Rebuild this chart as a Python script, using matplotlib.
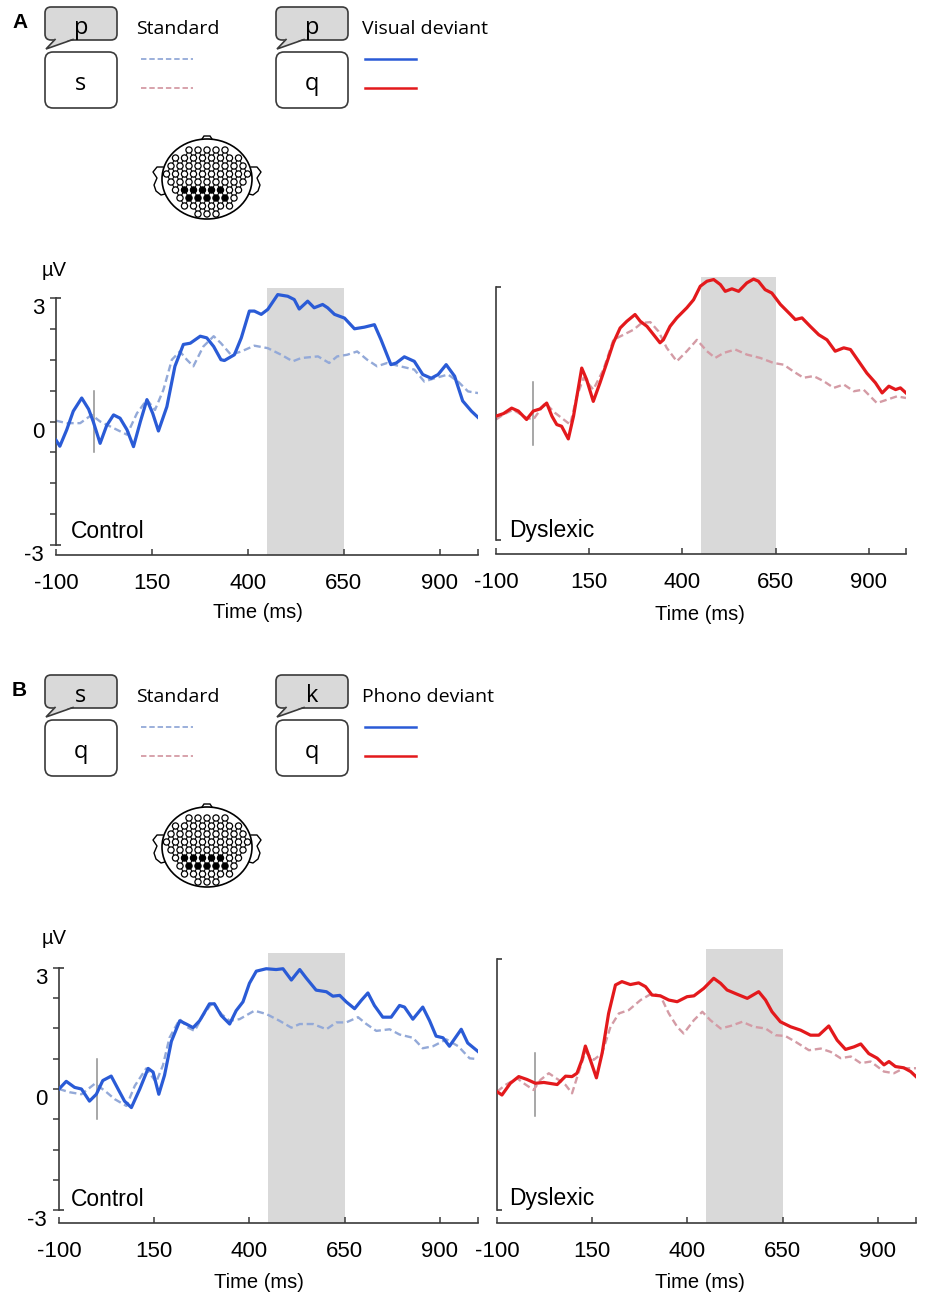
#!/usr/bin/env python3
"""ERP waves for visual (A) and phonological (B) deviants vs. standards,
control vs. dyslexic readers. Writes out.png."""
import matplotlib
matplotlib.use("Agg")
import matplotlib.pyplot as plt
import numpy as np
from matplotlib.patches import Circle, Ellipse, FancyBboxPatch, Polygon

W, H = 928, 1300

# ---- waveforms: time (ms), amplitude (uV) ----
a_ctl_dev_t = [-100, -90, -72, -55, -33, -15, -3, 15, 32, 50, 67, 85, 102, 120, 137, 152, 167, 189,
               210, 232, 250, 276, 293, 311, 330, 339, 365, 383, 404, 417, 435, 452, 478, 504, 521,
               534, 556, 573, 595, 608, 626, 652, 678, 704, 730, 747, 773, 787, 808, 834, 856, 878,
               896, 917, 939, 960, 983, 1000]
a_ctl_dev_v = [-0.45, -0.6, -0.2, 0.25, 0.57, 0.3, 0.0, -0.53, -0.1, 0.16, 0.08, -0.2, -0.61, 0.0,
               0.53, 0.2, -0.23, 0.36, 1.34, 1.87, 1.9, 2.07, 2.03, 1.82, 1.5, 1.48, 1.62, 2.03, 2.68,
               2.68, 2.6, 2.72, 3.08, 3.04, 2.96, 2.73, 2.92, 2.76, 2.84, 2.76, 2.6, 2.51, 2.25, 2.29,
               2.35, 1.99, 1.38, 1.42, 1.57, 1.46, 1.14, 1.05, 1.14, 1.38, 1.1, 0.5, 0.25, 0.1]
a_ctl_std_t = [-100, -72, -37, -7, 15, 50, 85, 111, 137, 158, 180, 202, 223, 241, 258, 284, 311, 330,
               356, 383, 417, 452, 487, 517, 539, 583, 612, 633, 659, 685, 711, 737, 763, 797, 834,
               860, 887, 922, 948, 974, 1000]
a_ctl_std_v = [0.02, -0.04, -0.04, 0.16, 0.0, -0.16, -0.32, 0.2, 0.53, 0.28, 0.77, 1.5, 1.7, 1.5,
               1.34, 1.82, 2.07, 1.9, 1.62, 1.7, 1.84, 1.78, 1.62, 1.46, 1.54, 1.58, 1.42, 1.58, 1.62,
               1.7, 1.5, 1.34, 1.42, 1.34, 1.26, 0.97, 1.05, 1.14, 0.97, 0.73, 0.69]

a_dys_dev_t = [-100, -80, -58, -40, -18, 0, 18, 36, 50, 63, 76, 94, 108, 130, 143, 161, 179, 197,
               215, 233, 251, 273, 287, 305, 323, 340, 349, 367, 385, 412, 430, 448, 466, 484, 502,
               515, 533, 551, 573, 591, 604, 622, 640, 663, 690, 703, 721, 743, 766, 788, 810, 833,
               851, 873, 895, 918, 936, 954, 972, 985, 1000]
a_dys_dev_v = [-0.06, 0.0, 0.13, 0.06, -0.14, 0.06, 0.11, 0.25, -0.06, -0.26, -0.3, -0.6, -0.06,
               1.08, 0.81, 0.29, 0.73, 1.2, 1.68, 2.03, 2.19, 2.35, 2.19, 2.07, 1.87, 1.68, 1.75,
               2.07, 2.27, 2.51, 2.7, 3.02, 3.14, 3.18, 3.06, 2.9, 2.96, 2.9, 3.1, 3.19, 3.14, 2.94,
               2.86, 2.59, 2.35, 2.23, 2.27, 2.07, 1.87, 1.75, 1.48, 1.56, 1.52, 1.24, 0.96, 0.73,
               0.49, 0.65, 0.57, 0.61, 0.49]
a_dys_std_t = [-100, -80, -54, -18, 0, 32, 58, 99, 117, 135, 161, 188, 215, 242, 269, 291, 314, 336,
               358, 385, 412, 439, 466, 488, 511, 542, 573, 609, 645, 672, 698, 725, 752, 779, 806,
               833, 860, 886, 922, 949, 976, 1000]
a_dys_std_v = [-0.14, -0.02, 0.09, -0.1, -0.14, 0.25, 0.02, -0.26, 0.41, 0.85, 0.57, 1.04, 1.75,
               1.87, 1.99, 2.15, 2.17, 1.95, 1.56, 1.24, 1.48, 1.75, 1.48, 1.32, 1.44, 1.52, 1.4,
               1.32, 1.2, 1.16, 1.0, 0.85, 0.89, 0.77, 0.61, 0.69, 0.53, 0.57, 0.25, 0.33, 0.41, 0.37]

b_ctl_dev_t = [-100, -81, -59, -41, -20, -2, 15, 37, 55, 72, 90, 112, 134, 147, 162, 177, 195, 217,
               234, 252, 269, 295, 308, 326, 348, 365, 383, 400, 418, 444, 470, 488, 510, 532, 549,
               575, 602, 619, 637, 654, 676, 694, 711, 728, 750, 772, 794, 807, 829, 855, 873, 890,
               908, 925, 956, 973, 1000]
b_ctl_dev_v = [0.0, 0.19, 0.04, 0.0, -0.3, -0.13, 0.21, 0.32, 0.0, -0.3, -0.46, 0.0, 0.51, 0.42,
               -0.13, 0.34, 1.18, 1.69, 1.61, 1.52, 1.69, 2.11, 2.11, 1.82, 1.61, 1.94, 2.16, 2.62,
               2.92, 2.98, 2.96, 2.98, 2.7, 2.96, 2.75, 2.45, 2.41, 2.3, 2.32, 2.16, 1.99, 2.2, 2.38,
               2.07, 1.78, 1.78, 2.07, 2.03, 1.73, 2.03, 1.69, 1.31, 1.27, 1.06, 1.48, 1.14, 0.93]
b_ctl_std_t = [-100, -72, -41, -6, 20, 46, 77, 99, 129, 155, 173, 190, 217, 239, 256, 278, 304, 326,
               348, 374, 413, 444, 479, 510, 532, 567, 602, 628, 654, 685, 707, 733, 768, 794, 829,
               855, 882, 917, 948, 978, 1000]
b_ctl_std_v = [0.0, -0.08, -0.13, 0.13, -0.04, -0.25, -0.42, 0.08, 0.51, 0.17, 0.59, 1.27, 1.73,
               1.52, 1.44, 1.82, 2.16, 1.86, 1.69, 1.73, 1.94, 1.86, 1.69, 1.52, 1.61, 1.61, 1.48,
               1.65, 1.65, 1.78, 1.61, 1.44, 1.48, 1.35, 1.27, 1.01, 1.06, 1.23, 1.06, 0.76, 0.74]

b_dys_dev_t = [-100, -87, -65, -43, -21, 1, 23, 58, 80, 97, 110, 123, 132, 145, 161, 176, 193, 211,
               228, 250, 272, 290, 307, 329, 351, 373, 399, 417, 443, 469, 487, 504, 530, 557, 587,
               605, 622, 644, 671, 697, 723, 745, 771, 793, 815, 837, 855, 876, 898, 916, 929, 946,
               968, 986, 1000]
b_dys_dev_v = [-0.17, -0.25, 0.03, 0.19, 0.12, 0.03, 0.05, 0.0, 0.2, 0.19, 0.27, 0.59, 0.92, 0.59,
               0.16, 0.75, 1.7, 2.38, 2.46, 2.39, 2.43, 2.34, 2.14, 2.12, 2.02, 1.98, 2.1, 2.12, 2.3,
               2.54, 2.42, 2.26, 2.16, 2.06, 2.22, 2.02, 1.74, 1.5, 1.38, 1.3, 1.18, 1.18, 1.4, 1.06,
               0.84, 0.9, 0.97, 0.74, 0.63, 0.47, 0.55, 0.43, 0.4, 0.31, 0.19]
b_dys_std_t = [-100, -78, -47, -30, -4, 14, 36, 62, 80, 97, 115, 132, 154, 176, 198, 220, 246, 277,
               307, 329, 351, 373, 390, 417, 439, 460, 487, 513, 544, 574, 605, 631, 657, 684, 719,
               750, 776, 802, 829, 855, 881, 916, 942, 968, 1000]
b_dys_std_v = [-0.17, -0.01, 0.15, 0.03, -0.13, 0.11, 0.27, 0.11, -0.01, -0.21, 0.31, 0.78, 0.59,
               0.75, 1.38, 1.7, 1.78, 2.02, 2.18, 2.12, 1.7, 1.38, 1.22, 1.54, 1.74, 1.54, 1.34, 1.4,
               1.5, 1.38, 1.34, 1.18, 1.16, 1.02, 0.82, 0.86, 0.78, 0.63, 0.67, 0.51, 0.55, 0.31,
               0.27, 0.39, 0.39]

XTICKS = [-100, 150, 400, 650, 900]
XMAX = 1000
WINDOW = (450, 650)       # shaded analysis window (ms)
STIM_BAR = 0.75           # half height of the stimulus-onset marker (uV)
YRANGE = 3

BLUE, RED = "#2a5bd6", "#e3191c"
BLUE_STD, RED_STD = "#93a9d8", "#d49ba5"
SHADE = "#d9d9d9"
AXC = "#3a3a3a"
BOXGRAY = "#d9d9d9"

plt.rcParams["font.family"] = ["Liberation Sans", "DejaVu Sans"]
LEGEND_FONT = ["Open Sans", "DejaVu Sans"]

fig = plt.figure(figsize=(W / 100, H / 100), dpi=100)


def add_px_axes(l, t, r, b):
    return fig.add_axes([l / W, 1 - b / H, (r - l) / W, (b - t) / H])


def draw_panel(rect, ylim, std_t, std_v, dev_t, dev_v, c_std, c_dev, ticks):
    l, t, r, b = rect
    ax = add_px_axes(*rect)
    ax.set_facecolor("none")
    ax.set_xlim(XTICKS[0], XMAX)
    ax.set_ylim(*ylim)
    ax.axvspan(*WINDOW, color=SHADE, lw=0, zorder=0)
    ax.plot([0, 0], [-STIM_BAR, STIM_BAR], color="#8f8f8f", lw=1.1, zorder=1)
    ax.plot(std_t, std_v, color=c_std, lw=1.7, dashes=(3, 1.6), zorder=2)
    ax.plot(dev_t, dev_v, color=c_dev, lw=2.3, zorder=3, solid_joinstyle="round")

    for s in ("top", "right"):
        ax.spines[s].set_visible(False)
    for s in ("left", "bottom"):
        ax.spines[s].set_color(AXC)
        ax.spines[s].set_linewidth(1.2)
    ax.spines["left"].set_bounds(-YRANGE, YRANGE)
    # little inward stubs that close the y bracket
    stub = 5 / ((r - l) / (XMAX - XTICKS[0]))
    for yv in (-YRANGE, YRANGE):
        ax.plot([XTICKS[0], XTICKS[0] + stub], [yv, yv], color=AXC, lw=1.2,
                clip_on=False, solid_capstyle="butt")

    ax.set_xticks(XTICKS + [XMAX])
    ax.set_xticklabels([str(v) for v in XTICKS] + [""])
    ax.tick_params(axis="x", direction="in", length=4, width=1.1, color=AXC,
                   labelsize=16, pad=13)
    if ticks:
        yt = np.arange(-YRANGE, YRANGE + 0.01, 0.75)
        ax.set_yticks(yt)
        ax.set_yticklabels([f"{v:g}" if v in (-YRANGE, 0, YRANGE) else "" for v in yt])
        ax.tick_params(axis="y", direction="out", length=4.5, width=1.1, color=AXC,
                       labelsize=16, pad=4)
        for lbl in ax.get_yticklabels():
            lbl.set_va("top")
    else:
        ax.set_yticks([])
    return ax


draw_panel((56, 288, 478, 555), (-3.24, 3.24), a_ctl_std_t, a_ctl_std_v,
           a_ctl_dev_t, a_ctl_dev_v, BLUE_STD, BLUE, True)
draw_panel((496, 277, 906, 554), (-3.33, 3.24), a_dys_std_t, a_dys_std_v,
           a_dys_dev_t, a_dys_dev_v, RED_STD, RED, False)
draw_panel((59, 953, 478, 1223), (-3.32, 3.37), b_ctl_std_t, b_ctl_std_v,
           b_ctl_dev_t, b_ctl_dev_v, BLUE_STD, BLUE, True)
draw_panel((497, 949, 916, 1223), (-3.31, 3.24), b_dys_std_t, b_dys_std_v,
           b_dys_dev_t, b_dys_dev_v, RED_STD, RED, False)

# ---- overlay in pixel coordinates for labels, legends and head maps ----
ov = fig.add_axes([0, 0, 1, 1])
ov.set_xlim(0, W)
ov.set_ylim(H, 0)
ov.axis("off")

for x, y in [(258, 613), (700, 615), (259, 1283), (700, 1283)]:
    ov.text(x, y, "Time (ms)", ha="center", va="center", fontsize=14.5)
for x, y, s in [(71, 532, "Control"), (509, 531, "Dyslexic"),
                (71, 1200, "Control"), (509, 1199, "Dyslexic")]:
    ov.text(x, y, s, ha="left", va="center", fontsize=16.5)
for y in (271, 938):
    ov.text(54, y, "µV", ha="center", va="center", fontsize=14.5)


def bubble(x0, y0, top, bottom):
    x1, y1 = x0 + 72, y0 + 33
    ov.add_patch(FancyBboxPatch((x0, y0), x1 - x0, y1 - y0,
                                boxstyle="round,pad=0,rounding_size=6",
                                fc=BOXGRAY, ec=AXC, lw=1.2, zorder=2))
    ov.add_patch(Polygon([(x0 + 10, y1 - 1.5), (x0 + 1, y1 + 9), (x0 + 28, y1 - 1.5)],
                         closed=True, fc=BOXGRAY, ec="none", zorder=3))
    ov.plot([x0 + 10, x0 + 1, x0 + 28], [y1 - 0.5, y1 + 9, y1 - 0.5], color=AXC, lw=1.2,
            zorder=4, solid_joinstyle="miter")
    ov.add_patch(FancyBboxPatch((x0, y0 + 45), x1 - x0, 56,
                                boxstyle="round,pad=0,rounding_size=8",
                                fc="white", ec=AXC, lw=1.2, zorder=2))
    ov.text((x0 + x1) / 2, y0 + 26.5, top, ha="center", va="baseline", fontsize=17,
            family=LEGEND_FONT, zorder=5)
    ov.text((x0 + x1) / 2, y0 + 83, bottom, ha="center", va="baseline", fontsize=17,
            family=LEGEND_FONT, zorder=5)


def head(cx, cy):
    # ears as curly outlines on both sides
    ear = np.array([(-44, -12), (-50, -12), (-54, -7), (-50, -1), (-53, 6), (-51, 12),
                    (-46, 16), (-42, 15)])
    for sx in (-1, 1):
        ov.plot(cx + sx * ear[:, 0], cy + ear[:, 1], color="black", lw=1.0, zorder=2)
    ov.add_patch(Polygon([(cx - 7, cy - 37), (cx - 3, cy - 43), (cx + 3, cy - 43),
                          (cx + 7, cy - 37)],
                         closed=True, fc="white", ec="black", lw=1.0, zorder=2))
    ov.add_patch(Ellipse((cx, cy), 90, 80, fc="white", ec="black", lw=1.2, zorder=3))
    # electrode lattice with diagonal links
    dx, dy = 9.0, 8.0
    pts = {}
    for k in range(-6, 4):
        y = cy + 11 + dy * k
        off = 0 if k % 2 == 0 else dx / 2
        for j in range(-6, 6):
            x = cx + dx * j + off - dx / 2
            if ((x - cx) / 41) ** 2 + ((y - cy) / 37) ** 2 <= 1:
                pts[(k, 2 * j + (k % 2))] = (x, y)
    for (k, c), (x, y) in pts.items():
        for nb in ((k + 1, c - 1), (k + 1, c + 1)):
            if nb in pts:
                x2, y2 = pts[nb]
                ov.plot([x, x2], [y, y2], color="black", lw=0.8, zorder=4)
    for (k, c), (x, y) in pts.items():
        on = k in (0, 1) and cx - 24 <= x <= cx + 20
        ov.add_patch(Circle((x, y), 3.1, fc="black" if on else "white",
                            ec="black", lw=0.9, zorder=5))


LEGENDS = [
    # y offset, panel letter, standard pair, deviant pair, deviant name
    (0, "A", ("p", "s"), ("p", "q"), "Visual deviant"),
    (668, "B", ("s", "q"), ("k", "q"), "Phono deviant"),
]
for dy, letter, std_pair, dev_pair, dev_name in LEGENDS:
    ov.text(12, 28 + dy, letter, ha="left", va="baseline", fontsize=15, fontweight="bold")
    bubble(45, 7 + dy, *std_pair)
    bubble(276, 7 + dy, *dev_pair)
    ov.text(136, 33.5 + dy, "Standard", ha="left", va="baseline", fontsize=14,
            family=LEGEND_FONT)
    ov.text(362, 33.5 + dy, dev_name, ha="left", va="baseline", fontsize=14,
            family=LEGEND_FONT)
    ov.plot([141, 193], [59 + dy, 59 + dy], color=BLUE_STD, lw=1.3, dashes=(3, 1.6))
    ov.plot([141, 193], [88 + dy, 88 + dy], color=RED_STD, lw=1.3, dashes=(3, 1.6))
    ov.plot([365, 416], [59 + dy, 59 + dy], color=BLUE, lw=1.8)
    ov.plot([365, 416], [88 + dy, 88 + dy], color=RED, lw=1.8)
    head(207, 179 + dy)

fig.savefig("out.png", dpi=100)
